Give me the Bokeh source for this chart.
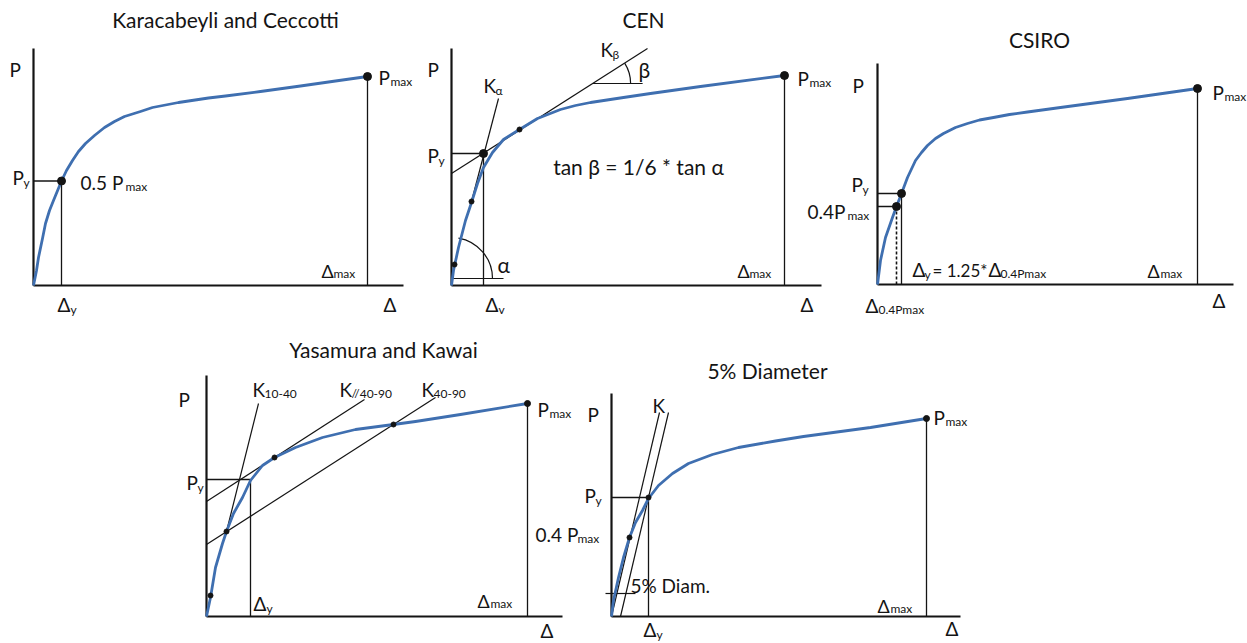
from bokeh.plotting import figure
from bokeh.models import Range1d, Label
from bokeh.embed import file_html
from bokeh.resources import INLINE

# ---------------- data (displacement / load in arbitrary drawing units) ----------------
# Karacabeyli and Ceccotti
kc_disp = [0, 3, 5, 9, 12, 16, 20, 28, 33, 39, 45, 52, 61, 71, 81, 91, 107, 119, 145, 175, 192, 227, 267, 302, 334]
kc_load = [0, 15, 28, 47, 62, 75, 85, 104.5, 115, 125, 134, 142, 150, 158, 164, 169, 174, 178, 183, 187.5, 189.5, 194, 199.5, 204.5, 209]
kc_pmax = [334, 209]
kc_py = [28, 104.5]

# CEN
cen_disp = [0, 2, 7, 14, 20, 26, 32, 41, 52, 68, 86, 109, 124, 139, 172, 199, 249, 333]
cen_load = [0, 15, 38, 65, 83, 102, 118, 133, 146, 156, 167, 176, 180, 183, 188, 192, 199, 210]
cen_pmax = [333, 210]
cen_py = [32, 132]
cen_mark_disp = [3, 20, 68]
cen_mark_load = [21, 84, 156]
cen_ka_disp = [20, 47]
cen_ka_load = [84, 187]
cen_kb_disp = [0, 196]
cen_kb_load = [112, 237]

# CSIRO
cs_disp = [0, 3, 8, 15, 19, 24, 30, 38, 44, 50, 58, 66, 78, 90, 102, 116, 132, 150, 183, 250, 320]
cs_load = [0, 24, 47, 67, 78, 91, 107, 124, 132, 139, 146, 151, 157, 161, 164.5, 167, 170, 172.5, 177, 186, 196]
cs_pmax = [320, 196]
cs_p04 = [19, 78]
cs_py = [24, 91]

# Yasamura and Kawai
yk_disp = [0, 4, 9, 16, 20, 27, 36, 44, 56, 68, 89, 116, 149, 187, 209, 254, 321]
yk_load = [0, 19, 49, 73, 85, 103, 119, 136, 151, 159, 169, 179, 187, 192, 195, 202, 213]
yk_pmax = [321, 213]
yk_py = [44, 137]
yk_mark_disp = [4, 20, 68, 187]
yk_mark_load = [21, 85, 159, 192]
yk_k1040_disp = [20, 52]
yk_k1040_load = [85, 213]
yk_k4090_disp = [0, 229]
yk_k4090_load = [72, 219]
yk_kpar_disp = [0, 158]
yk_kpar_load = [115, 217]

# 5% Diameter
d5_disp = [0, 2, 7, 12, 18, 24, 31, 37, 47, 61, 77, 101, 127, 164, 192, 259, 315]
d5_load = [0, 16, 39, 59, 79, 94, 106, 118, 131, 143, 153, 162, 169, 175.5, 180, 189, 198]
d5_pmax = [315, 198]
d5_py = [37, 119]
d5_p04 = [18, 79]
d5_k_disp = [0, 48]
d5_k_load = [0, 204]
d5_koff_disp = [9, 57]
d5_koff_load = [0, 204]
d5_diam_disp = [-6, 24]
d5_diam_load = [23, 23]

# ---------------- layout / style ----------------
FONT = "Lato"
BLUE = "#3f6fb0"
INK = "#141414"
W, H = 1247, 643
X0, Y0 = 0, 0

# panel origin (page px) and axis extents (drawing units)
panels = {
    "kc":  dict(origin=(33, 285),  ytop=237, xend=370),
    "cen": dict(origin=(451, 285), ytop=237, xend=370),
    "cs":  dict(origin=(877, 284), ytop=221, xend=356),
    "yk":  dict(origin=(206, 616), ytop=241, xend=356),
    "d5":  dict(origin=(611, 616), ytop=223, xend=349),
}

p = figure(width=W, height=H, output_backend="svg", toolbar_location=None,
           x_range=Range1d(X0, X0 + W), y_range=Range1d(Y0 + H, Y0),
           x_axis_location=None, y_axis_location=None, min_border=0)
p.grid.visible = False
p.outline_line_color = None
p.background_fill_color = "white"
p.border_fill_color = "white"

for name, cfg in panels.items():
    ox, oy = cfg["origin"]
    p.extra_x_ranges[name] = Range1d(X0 - ox, X0 + W - ox)
    p.extra_y_ranges[name] = Range1d(oy - (Y0 + H), oy - Y0)


def line(pn, xs, ys, color=INK, width=1.3, dash="solid"):
    p.line(xs, ys, x_range_name=pn, y_range_name=pn, line_color=color,
           line_width=width, line_dash=dash)


def dots(pn, xs, ys, size=8):
    p.scatter(xs, ys, x_range_name=pn, y_range_name=pn, size=size,
              fill_color=INK, line_color=INK)


def axes(pn):
    cfg = panels[pn]
    line(pn, [0, 0], [0, cfg["ytop"]], width=2.2)
    line(pn, [0, cfg["xend"]], [0, 0], width=2.2)


def curve(pn, xs, ys):
    p.line(xs, ys, x_range_name=pn, y_range_name=pn, line_color=BLUE,
           line_width=2.8, line_join="round")


def txt(x, y, s, size=19, align="left"):
    # y is the intended text baseline (page px); compensate renderer offset
    p.add_layout(Label(x=x, y=y - 0.4 * size, text=s, text_font=FONT,
                       text_font_size=f"{size}px", text_align=align,
                       text_baseline="alphabetic", text_color=INK))


SUB = 12
TITLE = 21

# ---------- Panel 1: Karacabeyli and Ceccotti ----------
axes("kc")
line("kc", [kc_pmax[0], kc_pmax[0]], [0, kc_pmax[1]])
line("kc", [0, kc_py[0]], [kc_py[1], kc_py[1]])
line("kc", [kc_py[0], kc_py[0]], [0, kc_py[1]])
curve("kc", kc_disp, kc_load)
dots("kc", [kc_pmax[0], kc_py[0]], [kc_pmax[1], kc_py[1]])

txt(225, 27, "Karacabeyli and Ceccotti", TITLE, "center")
txt(9, 77, "P")
txt(378, 85, "P"); txt(390, 86, "max", SUB)
txt(12, 185, "P"); txt(23, 187, "y", SUB)
txt(80, 190, "0.5 P"); txt(125, 191, "max", SUB)
txt(321, 278, "Δ", 18); txt(333, 278, "max", SUB)
txt(57, 312, "Δ"); txt(70, 314, "y", SUB)
txt(383, 312, "Δ")

# ---------- Panel 2: CEN ----------
axes("cen")
line("cen", [cen_pmax[0], cen_pmax[0]], [0, cen_pmax[1]])
line("cen", [0, cen_py[0]], [cen_py[1], cen_py[1]])
line("cen", [cen_py[0], cen_py[0]], [0, cen_py[1]])
line("cen", cen_ka_disp, cen_ka_load, width=1.2)
line("cen", cen_kb_disp, cen_kb_load, width=1.2)
# angle alpha
line("cen", [0, 52], [7, 7], width=1.2)
p.arc(x=0, y=7, radius=41, start_angle=0, end_angle=1.40,
      x_range_name="cen", y_range_name="cen", line_color=INK, line_width=1.2)
# angle beta
kb_slope = (cen_kb_load[1] - cen_kb_load[0]) / (cen_kb_disp[1] - cen_kb_disp[0])
bx = (202 - cen_kb_load[0]) / kb_slope
line("cen", [bx, bx + 50], [202, 202], width=1.2)
p.arc(x=bx, y=202, radius=38, start_angle=0, end_angle=0.567,
      x_range_name="cen", y_range_name="cen", line_color=INK, line_width=1.2)
curve("cen", cen_disp, cen_load)
dots("cen", cen_mark_disp, cen_mark_load, size=5)
dots("cen", [cen_pmax[0], cen_py[0]], [cen_pmax[1], cen_py[1]])

txt(643, 27, "CEN", TITLE, "center")
txt(427, 77, "P")
txt(483, 93, "K"); txt(495, 95, "α", SUB)
txt(600, 57, "K"); txt(612, 59, "β", SUB)
txt(638, 77, "β", 21)
txt(797, 86, "P"); txt(809, 87, "max", SUB)
txt(427, 163, "P"); txt(438, 165, "y", SUB)
txt(638, 174, "tan β = 1/6 * tan α", 21, "center")
txt(497, 272, "α", 21)
txt(737, 278, "Δ", 18); txt(749, 278, "max", SUB)
txt(485, 312, "Δ"); txt(498, 314, "v", SUB)
txt(800, 312, "Δ")

# ---------- Panel 3: CSIRO ----------
axes("cs")
line("cs", [cs_pmax[0], cs_pmax[0]], [0, cs_pmax[1]])
line("cs", [0, cs_py[0]], [cs_py[1], cs_py[1]])
line("cs", [cs_py[0], cs_py[0]], [0, cs_py[1]])
line("cs", [0, cs_p04[0]], [cs_p04[1], cs_p04[1]])
line("cs", [cs_p04[0], cs_p04[0]], [0, cs_p04[1]], width=1.6, dash="3 2")
curve("cs", cs_disp, cs_load)
dots("cs", [cs_pmax[0], cs_py[0], cs_p04[0]], [cs_pmax[1], cs_py[1], cs_p04[1]])

txt(1039, 47, "CSIRO", TITLE, "center")
txt(852, 93, "P")
txt(1212, 100, "P"); txt(1224, 101, "max", SUB)
txt(851, 192, "P"); txt(862, 194, "y", SUB)
txt(807, 219, "0.4P"); txt(847, 220, "max", SUB)
txt(912, 277, "Δ"); txt(924, 279, "y", SUB)
txt(932, 277, "= 1.25*", 17)
txt(988, 277, "Δ"); txt(1000, 278, "0.4Pmax", SUB)
txt(1147, 278, "Δ", 18); txt(1160, 278, "max", SUB)
txt(865, 313, "Δ"); txt(878, 314, "0.4Pmax", SUB)
txt(1212, 308, "Δ")

# ---------- Panel 4: Yasamura and Kawai ----------
axes("yk")
line("yk", [yk_pmax[0], yk_pmax[0]], [0, yk_pmax[1]])
line("yk", [0, yk_py[0]], [yk_py[1], yk_py[1]])
line("yk", [yk_py[0], yk_py[0]], [0, yk_py[1]])
line("yk", yk_k1040_disp, yk_k1040_load, width=1.2)
line("yk", yk_k4090_disp, yk_k4090_load, width=1.2)
line("yk", yk_kpar_disp, yk_kpar_load, width=1.2)
curve("yk", yk_disp, yk_load)
dots("yk", yk_mark_disp, yk_mark_load, size=5)
dots("yk", [yk_pmax[0]], [yk_pmax[1]], size=6)

txt(383, 357, "Yasamura and Kawai", TITLE, "center")
txt(178, 407, "P")
txt(252, 397, "K"); txt(264, 398, "10-40", SUB)
txt(339, 397, "K"); txt(351, 398, "//40-90", SUB)
txt(421, 397, "K"); txt(433, 398, "40-90", SUB)
txt(537, 417, "P"); txt(549, 418, "max", SUB)
txt(186, 490, "P"); txt(197, 492, "y", SUB)
txt(253, 611, "Δ"); txt(266, 613, "y", SUB)
txt(477, 608, "Δ", 18); txt(490, 608, "max", SUB)
txt(540, 638, "Δ")

# ---------- Panel 5: 5% Diameter ----------
axes("d5")
line("d5", [d5_pmax[0], d5_pmax[0]], [0, d5_pmax[1]])
line("d5", [0, d5_py[0]], [d5_py[1], d5_py[1]])
line("d5", [d5_py[0], d5_py[0]], [0, d5_py[1]])
line("d5", d5_k_disp, d5_k_load, width=1.2)
line("d5", d5_koff_disp, d5_koff_load, width=1.2)
line("d5", d5_diam_disp, d5_diam_load, width=1.2)
curve("d5", d5_disp, d5_load)
dots("d5", [d5_p04[0], d5_py[0]], [d5_p04[1], d5_py[1]], size=5)
dots("d5", [d5_pmax[0]], [d5_pmax[1]], size=6)

txt(767, 378, "5% Diameter", TITLE, "center")
txt(587, 422, "P")
txt(652, 413, "K")
txt(933, 425, "P"); txt(945, 426, "max", SUB)
txt(584, 503, "P"); txt(595, 505, "y", SUB)
txt(535, 542, "0.4 P"); txt(577, 543, "max", SUB)
txt(630, 593, "5% Diam.", 19)
txt(643, 637, "Δ"); txt(656, 639, "y", SUB)
txt(877, 613, "Δ", 18); txt(890, 613, "max", SUB)
txt(945, 636, "Δ")

open("out.html", "w").write(file_html(p, INLINE))
